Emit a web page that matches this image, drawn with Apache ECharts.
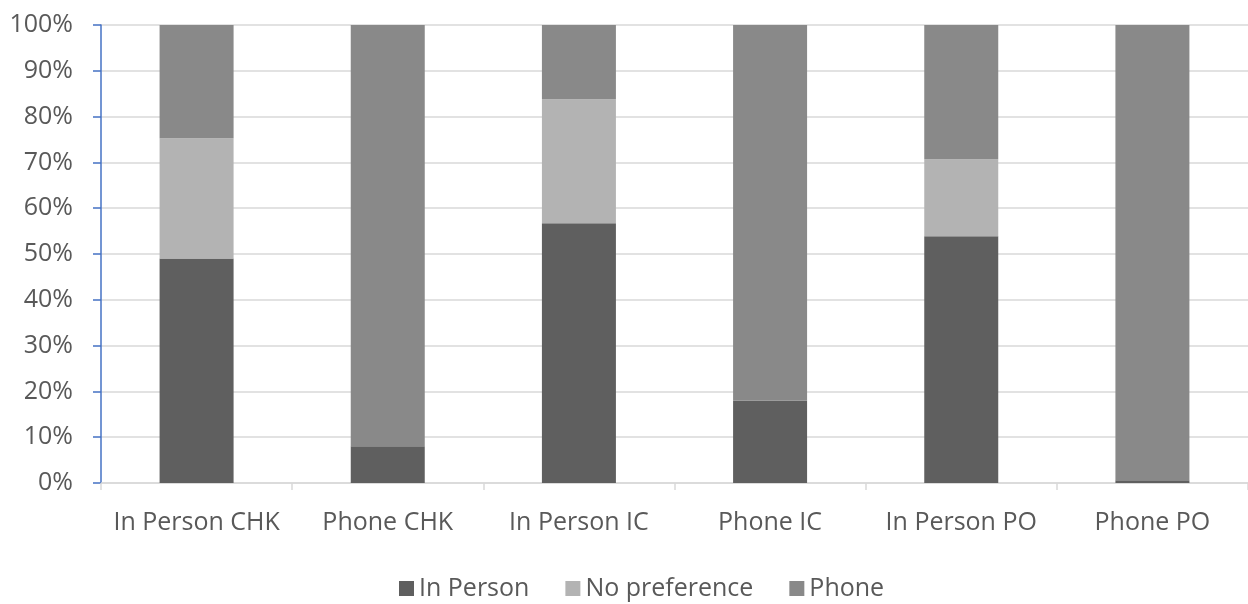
<!DOCTYPE html>
<html>
<head>
<meta charset="utf-8">
<script src="https://cdn.jsdelivr.net/npm/echarts@6/dist/echarts.min.js"></script>
<style>
  html, body { margin: 0; padding: 0; background: #fff; }
  #chart { width: 1248px; height: 604px; }
</style>
</head>
<body>
<div id="chart"></div>
<script>
// Preferred contact mode by group (percent of respondents)
const categories = ['In Person CHK', 'Phone CHK', 'In Person IC', 'Phone IC', 'In Person PO', 'Phone PO'];
const inPerson     = [49.0, 8.0, 56.7, 18.0, 53.9, 0.6];
const noPreference = [26.3, 0, 27.1, 0, 16.8, 0];
const phone        = [24.7, 92.0, 16.2, 82.0, 29.3, 99.4];
const seriesNames  = ['In Person', 'No preference', 'Phone'];
const seriesColors = ['#5f5f5f', '#b3b3b3', '#898989'];

const FONT = '"Open Sans", sans-serif';
const TEXT = '#595959';
const FONT_SIZE = 25;

const chart = echarts.init(document.getElementById('chart'), null, { renderer: 'canvas' });

const values = [inPerson, noPreference, phone];
const series = seriesNames.map((name, i) => ({
  name,
  type: 'bar',
  stack: 'total',
  barWidth: 74,
  data: values[i],
  itemStyle: { color: seriesColors[i] }
}));

chart.setOption({
  animation: false,
  backgroundColor: '#fff',
  textStyle: { fontFamily: FONT },
  grid: { left: 101, top: 25, width: 1150, bottom: 121, containLabel: false },
  legend: {
    data: seriesNames,
    top: 571,
    left: 394,
    itemWidth: 15,
    itemHeight: 15,
    itemGap: 36,
    icon: 'rect',
    textStyle: { color: TEXT, fontSize: FONT_SIZE, fontFamily: FONT, padding: [0, 0, 0, 0] }
  },
  xAxis: {
    type: 'category',
    data: categories,
    axisLine: { show: true, lineStyle: { color: '#d9d9d9', width: 1.5 } },
    axisTick: { show: true, interval: 0, length: 7, lineStyle: { color: '#d9d9d9', width: 1.5 } },
    axisLabel: { interval: 0, color: TEXT, fontSize: FONT_SIZE, fontFamily: FONT, margin: 27 }
  },
  yAxis: {
    type: 'value',
    min: 0,
    max: 100,
    interval: 10,
    axisLine: { show: true, lineStyle: { color: '#4472c4', width: 1.5 } },
    axisTick: { show: true, length: 8, lineStyle: { color: '#4472c4', width: 1.5 } },
    axisLabel: { color: TEXT, fontSize: FONT_SIZE, fontFamily: FONT, margin: 28, formatter: '{value}%' },
    splitLine: { show: true, lineStyle: { color: '#d9d9d9', width: 1.5 } }
  },
  series
});
</script>
</body>
</html>
